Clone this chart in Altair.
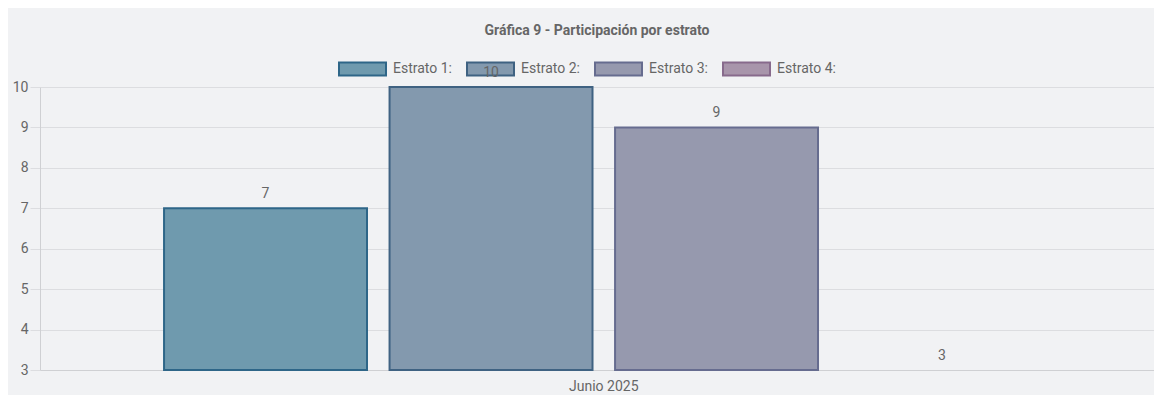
import altair as alt
import pandas as pd

# ---- data ----
estratos = ["Estrato 1:", "Estrato 2:", "Estrato 3:", "Estrato 4:"]
valores = [7, 10, 9, 3]
periodo = "Junio 2025"
fills = ["#6f9aae", "#8399ae", "#9699ae", "#a895ab"]
strokes = ["#2e6688", "#3f6282", "#666c8f", "#876a8c"]
y_ticks = [3, 4, 5, 6, 7, 8, 9, 10]
titulo = "Gráfica 9 - Participación por estrato"

df = pd.DataFrame({"periodo": [periodo] * len(estratos), "estrato": estratos, "valor": valores})

FONT = "Roboto"
FS = 14

x_enc = alt.X(
    "periodo:N",
    title=None,
    scale=alt.Scale(paddingInner=0, paddingOuter=0.1175, align=0.532),
    axis=alt.Axis(labelAngle=0, ticks=False, tickSize=0, labelPadding=9,
                  domain=True, domainColor="#cfd0d3", grid=False,
                  labelColor="#666", labelFontSize=FS, labelFont=FONT),
)
xoff_enc = alt.XOffset("estrato:N", sort=estratos,
                       scale=alt.Scale(paddingInner=0.1, paddingOuter=0.05))
y_enc = alt.Y(
    "valor:Q",
    title=None,
    scale=alt.Scale(domain=[3, 10], nice=False, zero=False),
    axis=alt.Axis(values=y_ticks, format="d", tickSize=10, tickColor="#dcdde0",
                  labelPadding=2, labelColor="#666", labelFontSize=FS, labelFont=FONT,
                  domainColor="#cfd0d3", gridColor="#dcdde0"),
)

legend = alt.Legend(
    orient="none", legendX=298, legendY=-43, direction="horizontal", title=None,
    symbolType="M-1,-0.28H1V0.28H-1Z", symbolSize=2209, symbolStrokeWidth=2,
    labelFontSize=FS, labelColor="#666", labelFont=FONT, labelOffset=6,
    columnPadding=10, padding=0,
)

bars = alt.Chart(df).mark_bar().encode(
    x=x_enc,
    xOffset=xoff_enc,
    y=y_enc,
    y2=alt.datum(3),
    fill=alt.Fill("estrato:N", sort=estratos,
                  scale=alt.Scale(domain=estratos, range=fills), legend=legend),
    stroke=alt.Stroke("estrato:N", sort=estratos,
                      scale=alt.Scale(domain=estratos, range=strokes), legend=legend),
    strokeWidth=alt.condition("datum.valor > 3", alt.value(2), alt.value(0)),
)

labels = alt.Chart(df).mark_text(dy=-14, color="#666", fontSize=FS, font=FONT).encode(
    x=x_enc,
    xOffset=xoff_enc,
    y=alt.Y("valor:Q"),
    text=alt.Text("valor:Q"),
)

chart = alt.layer(bars, labels).properties(
    width=1114,
    height=283,
    title=alt.TitleParams(titulo, fontSize=FS, fontWeight="bold", color="#666",
                          anchor="middle", offset=6, font=FONT),
    autosize=alt.AutoSizeParams(type="none"),
    padding={"left": 32, "top": 79, "right": 0, "bottom": 25},
).configure(
    background="#f1f2f4",
    font=FONT,
).configure_view(stroke=None)

chart.save("out.html", embed_options={
    "renderer": "svg", "actions": False,
    "patch": [{"op": "add", "path": "/marks/1/zindex", "value": 2}],
})
